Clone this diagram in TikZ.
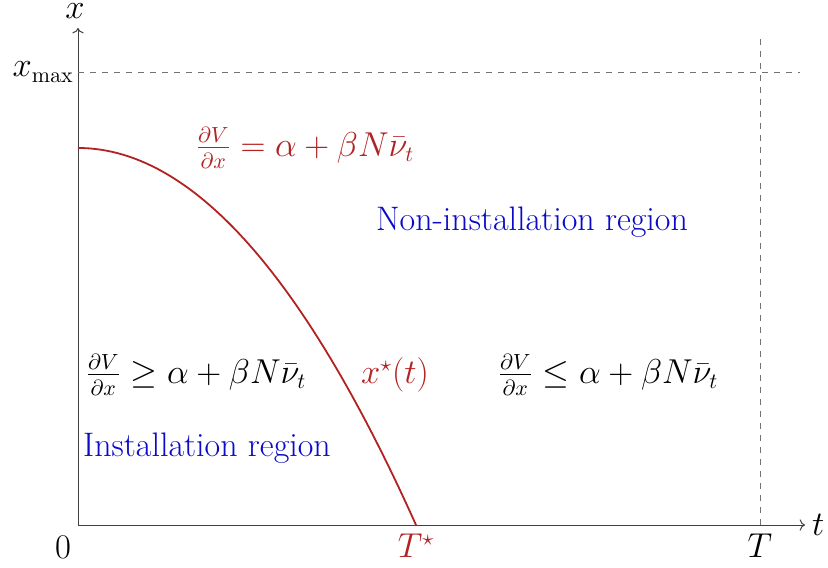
\documentclass[tikz,border=0pt]{standalone}
\usepackage{amsmath, amssymb}
\usepackage{tikz}
\usetikzlibrary{arrows.meta}
\definecolor{curvered}{RGB}{178,34,34}
\definecolor{regionblue}{RGB}{10,10,200}

\begin{document}
\begin{tikzpicture}[>=To, x=0.5pt, y=0.5pt, font=\fontsize{16}{19}\selectfont,
  axisline/.style={black!75, line width=0.5pt},
  guide/.style={black!55, dashed, line width=0.4pt},
  redlabel/.style={text=curvered},
  bluelabel/.style={text=regionblue, font=\fontsize{17}{20}\selectfont}]
  \useasboundingbox (-78,-42) rectangle (750,525);
  % axes
  \coordinate (O) at (0,0);
  \coordinate (tend) at (727,0);
  \coordinate (xend) at (0,497);
  \draw[axisline,->] (O) -- (tend);
  \draw[axisline,->] (O) -- (xend);
  \node[right] (tlab) at (tend){$t$};
  \node[inner sep=0pt] (xlab) at (-3,514){$x$};
  \node[below left, yshift=-2pt] (zero) at (O){$0$};
  % x_max and T guides
  \coordinate (xmax) at (0,453);
  \coordinate (xmaxend) at (722,453);
  \draw[guide] (xmax) -- (xmaxend);
  \node[left, inner sep=2pt] (xmaxlab) at (xmax){$x_{\max}$};
  \coordinate (T) at (682,0);
  \coordinate (Ttop) at (682,488);
  \draw[guide] (T) -- (Ttop);
  \node[below, yshift=-1pt] (Tlab) at (T){$T$};
  % threshold curve x*(t)
  \coordinate (Tstar) at (338,0);
  \draw[curvered, line width=0.9pt] plot[domain=0:338, samples=60] (\x, {377*(1-(\x/338)^2)});
  \node[below, yshift=-1pt, redlabel] (Tstarlab) at (Tstar){$T^\star$};
  \node[redlabel] (eqlab) at (227,377){$\frac{\partial V}{\partial x} = \alpha + \beta N\bar{\nu}_t$};
  \node[redlabel] (curvelab) at (317,150){$x^\star(t)$};
  % regions
  \node (geq) at (118,150){$\frac{\partial V}{\partial x} \geq \alpha + \beta N\bar{\nu}_t$};
  \node (leq) at (530,150){$\frac{\partial V}{\partial x} \leq \alpha + \beta N\bar{\nu}_t$};
  \node[bluelabel] (inst) at (129,77){Installation region};
  \node[bluelabel] (noninst) at (454,303){Non-installation region};
\end{tikzpicture}
\end{document}
